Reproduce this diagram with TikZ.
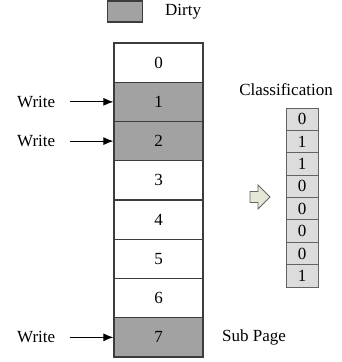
\documentclass[tikz,border=0pt]{standalone}
\usepackage{fontspec}
\setmainfont{Liberation Serif}
\usetikzlibrary{arrows.meta}
\definecolor{dirtygray}{HTML}{A2A2A2}
\definecolor{classgray}{HTML}{DCDCDC}
\definecolor{arrowfill}{HTML}{E4E8D6}
\definecolor{edgegray}{HTML}{3C3C3C}
\tikzset{
  txt/.style={font=\rmfamily\fontsize{17pt}{20pt}\selectfont, inner sep=0pt},
  cell/.style={draw=edgegray, line width=1.3pt, minimum width=89pt, minimum height=39.25pt, inner sep=0pt, font=\rmfamily\fontsize{17pt}{20pt}\selectfont},
  dirty/.style={cell, fill=dirtygray},
  clean/.style={cell, fill=white},
  ccell/.style={draw=edgegray!80, line width=0.9pt, fill=classgray, minimum width=32pt, minimum height=22.375pt, inner sep=0pt, font=\rmfamily\fontsize{17pt}{20pt}\selectfont},
  wline/.style={line width=0.9pt, -{Latex[length=10pt,width=8pt]}},
}
\begin{document}
\begin{tikzpicture}[x=1pt,y=-1pt]
\useasboundingbox (0,0) rectangle (341,362);
% legend
\node[draw=edgegray, line width=1.3pt, fill=dirtygray, minimum width=35pt, minimum height=21pt, inner sep=0pt] (leg) at (125,11.5) {};
\node[txt, anchor=west] (legt) at (165,12) {Dirty};
% main column
\node[clean] (c0) at (158.5,62.6) {0};
\node[dirty] (c1) at (158.5,101.85) {1};
\node[dirty] (c2) at (158.5,141.1) {2};
\node[clean] (c3) at (158.5,180.35) {3};
\node[clean] (c4) at (158.5,219.6) {4};
\node[clean] (c5) at (158.5,258.85) {5};
\node[clean] (c6) at (158.5,298.1) {6};
\node[dirty] (c7) at (158.5,337.35) {7};
% write labels
\node[txt, anchor=west] (w1) at (17,101.85) {Write};
\node[txt, anchor=west] (w2) at (17,141.1) {Write};
\node[txt, anchor=west] (w7) at (17,337.35) {Write};
\draw[wline] (70,101.85) -- (c1.west);
\draw[wline] (70,141.1) -- (c2.west);
\draw[wline] (70,337.35) -- (c7.west);
\node[txt, anchor=west] (sub) at (222,337.35) {Sub Page};
% classification
\node[txt] (ct) at (286,90) {Classification};
\node[ccell] (k0) at (302,119.2) {0};
\node[ccell] (k1) at (302,141.575) {1};
\node[ccell] (k2) at (302,163.95) {1};
\node[ccell] (k3) at (302,186.325) {0};
\node[ccell] (k4) at (302,208.7) {0};
\node[ccell] (k5) at (302,231.075) {0};
\node[ccell] (k6) at (302,253.45) {0};
\node[ccell] (k7) at (302,275.825) {1};
% block arrow
\draw[draw=gray!80!black, line width=0.8pt, fill=arrowfill, line join=miter]
  (250,191.5) -- (258,191.5) -- (258,185) -- (270,197) -- (258,209) -- (258,202.5) -- (250,202.5) -- cycle;
\end{tikzpicture}
\end{document}
